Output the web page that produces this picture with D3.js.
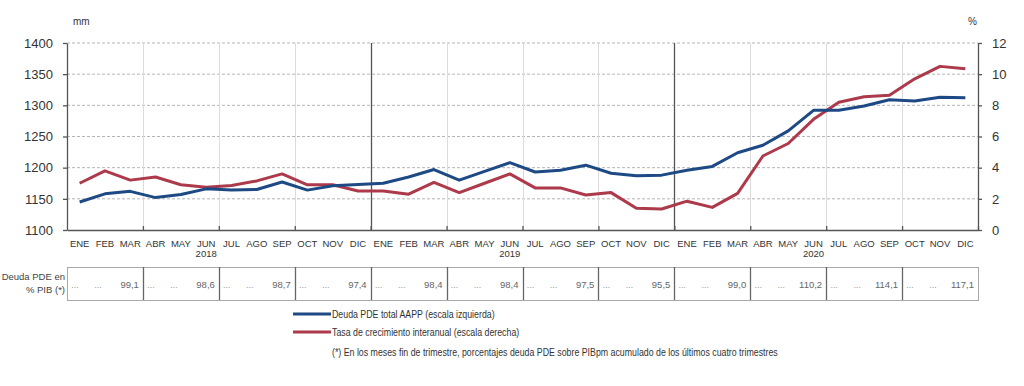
<!DOCTYPE html>
<html lang="es">
<head>
<meta charset="UTF-8">
<title>Deuda PDE</title>
<script src="https://cdn.jsdelivr.net/npm/d3@7"></script>
<style>
  body { margin: 0; background: #fff; }
  svg { display: block; font-family: "Liberation Sans", Arial, sans-serif; }
</style>
</head>
<body>
<div class="chart"></div>
<script>
const monthNames = ['ENE','FEB','MAR','ABR','MAY','JUN','JUL','AGO','SEP','OCT','NOV','DIC'];
const years = ['2018', '2019', '2020'];

// deuda PDE total AAPP, miles de millones (escala izquierda)
const deuda = [
  1145, 1158, 1162, 1152, 1157, 1166, 1164, 1165, 1177, 1164, 1171, 1173,
  1175, 1185, 1197, 1180, 1194, 1208, 1193, 1196, 1204, 1191, 1187, 1188,
  1196, 1202, 1224, 1236, 1259, 1292, 1292, 1299, 1309, 1307, 1313, 1312
];
// tasa de crecimiento interanual % (escala derecha)
const tasa = [
  3.0, 3.8, 3.2, 3.4, 2.9, 2.75, 2.85, 3.15, 3.6, 2.9, 2.9, 2.5,
  2.5, 2.3, 3.05, 2.4, 3.0, 3.6, 2.7, 2.7, 2.25, 2.4, 1.4, 1.35,
  1.85, 1.45, 2.35, 4.75, 5.55, 7.1, 8.2, 8.55, 8.65, 9.7, 10.5, 10.35
];
// deuda en % PIB al fin de cada trimestre
const pibPct = ['99,1','98,6','98,7','97,4','98,4','98,4','97,5','95,5','99,0','110,2','114,1','117,1'];

const leftTicks = [1100, 1150, 1200, 1250, 1300, 1350, 1400];
const rightTicks = [0, 2, 4, 6, 8, 10, 12];

const W = 1024, H = 386;
const plot = { left: 67, right: 978, top: 43, bottom: 230 };

const keys = years.flatMap(y => monthNames.map(m => `${m}-${y}`));
const points = keys.map((k, i) => ({ key: k, month: k.split('-')[0], deuda: deuda[i], tasa: tasa[i] }));

const svg = d3.select('.chart').append('svg').attr('width', W).attr('height', H);

const x = d3.scaleBand().domain(keys).range([plot.left, plot.right]);
const xi = d3.scaleLinear().domain([0, keys.length]).range([plot.left, plot.right]);
const yL = d3.scaleLinear().domain([1100, 1400]).range([plot.bottom, plot.top]);
const yR = d3.scaleLinear().domain([0, 12]).range([plot.bottom, plot.top]);

const quarterIdx = d3.range(3, keys.length, 3);

// horizontal dashed grid
svg.append('g').selectAll('line').data(leftTicks.slice(1)).join('line')
  .attr('x1', plot.left).attr('x2', plot.right)
  .attr('y1', d => yL(d)).attr('y2', d => yL(d))
  .attr('stroke', '#b5b5b5').attr('stroke-width', 1).attr('stroke-dasharray', '3,2');

// vertical quarter / year lines
svg.append('g').selectAll('line').data(quarterIdx).join('line')
  .attr('x1', d => Math.round(xi(d)) + 0.5).attr('x2', d => Math.round(xi(d)) + 0.5)
  .attr('y1', plot.top).attr('y2', plot.bottom)
  .attr('stroke', d => d % 12 === 0 ? '#555' : '#dcdcdc')
  .attr('stroke-width', d => d % 12 === 0 ? 1.3 : 1);

// axes
const styleAxis = g => {
  g.select('.domain').attr('stroke', '#555').attr('stroke-width', 1.3);
  g.selectAll('.tick line').attr('stroke', '#555').attr('stroke-width', 1.3);
  g.selectAll('.tick text').attr('fill', '#333');
};

svg.append('g').attr('transform', `translate(${plot.left},0)`)
  .call(d3.axisLeft(yL).tickValues(leftTicks).tickFormat(d3.format('d')).tickSize(4).tickSizeOuter(0).tickPadding(10))
  .call(styleAxis)
  .call(g => g.selectAll('.tick text').attr('font-size', 13).attr('font-family', '"Liberation Sans", Arial, sans-serif'));

svg.append('g').attr('transform', `translate(${plot.right},0)`)
  .call(d3.axisRight(yR).tickValues(rightTicks).tickSize(4).tickSizeOuter(0).tickPadding(10))
  .call(styleAxis)
  .call(g => g.selectAll('.tick text').attr('font-size', 13).attr('font-family', '"Liberation Sans", Arial, sans-serif'));

// bottom axis line with quarter ticks pointing up
svg.append('g').attr('transform', `translate(0,${plot.bottom})`)
  .call(d3.axisBottom(xi).tickValues(quarterIdx.concat([keys.length])).tickSize(-4).tickSizeOuter(0).tickFormat(''))
  .call(styleAxis);

// month labels
svg.append('g').attr('transform', `translate(0,${plot.bottom})`)
  .call(d3.axisBottom(x).tickSize(0).tickPadding(10).tickFormat(k => k.split('-')[0]))
  .call(g => g.select('.domain').remove())
  .call(g => g.selectAll('.tick text').attr('font-size', 9.5).attr('fill', '#333').attr('font-family', '"Liberation Sans", Arial, sans-serif'));

// year labels under JUN
svg.append('g').selectAll('text').data(years).join('text')
  .attr('x', d => x(`JUN-${d}`) + x.bandwidth() / 2)
  .attr('y', 257)
  .attr('text-anchor', 'middle').attr('font-size', 9.5).attr('fill', '#333')
  .text(d => d);

// units
svg.append('text').attr('x', 73).attr('y', 25).attr('font-size', 10).attr('fill', '#333').text('mm');
svg.append('text').attr('x', 968).attr('y', 25).attr('font-size', 10).attr('fill', '#333').text('%');

// lines
const cx = d => x(d.key) + x.bandwidth() / 2;
const lineDeuda = d3.line().x(cx).y(d => yL(d.deuda));
const lineTasa = d3.line().x(cx).y(d => yR(d.tasa));

svg.append('path').datum(points).attr('d', lineTasa)
  .attr('fill', 'none').attr('stroke', '#ad3a4b').attr('stroke-width', 3).attr('stroke-linejoin', 'round');
svg.append('path').datum(points).attr('d', lineDeuda)
  .attr('fill', 'none').attr('stroke', '#1d4a84').attr('stroke-width', 3).attr('stroke-linejoin', 'round');

// table of % PIB
const tTop = 267, tBot = 300;
const table = svg.append('g');
table.append('rect').attr('x', plot.left + 0.5).attr('y', tTop + 0.5)
  .attr('width', plot.right - plot.left).attr('height', tBot - tTop)
  .attr('fill', 'none').attr('stroke', '#aaa');
table.selectAll('line').data(quarterIdx).join('line')
  .attr('x1', d => Math.round(xi(d)) + 0.5).attr('x2', d => Math.round(xi(d)) + 0.5)
  .attr('y1', tTop).attr('y2', tBot)
  .attr('stroke', '#666').attr('stroke-width', 1.3);

const cells = table.selectAll('g.cell').data(pibPct).join('g').attr('class', 'cell');
cells.append('text').attr('x', (d, i) => xi(i * 3) + 8).attr('y', 288)
  .attr('font-size', 9).attr('fill', '#999').attr('text-anchor', 'middle').text('...');
cells.append('text').attr('x', (d, i) => xi(i * 3) + 31).attr('y', 288)
  .attr('font-size', 9).attr('fill', '#999').attr('text-anchor', 'middle').text('...');
cells.append('text').attr('x', (d, i) => xi(i * 3 + 3) - 4).attr('y', 288)
  .attr('font-size', 9.5).attr('fill', '#666').attr('text-anchor', 'end').text(d => d);

svg.append('text').attr('x', 65).attr('y', 280).attr('text-anchor', 'end')
  .attr('font-size', 9.5).attr('fill', '#444').text('Deuda PDE en');
svg.append('text').attr('x', 65).attr('y', 293).attr('text-anchor', 'end')
  .attr('font-size', 9.5).attr('fill', '#444').text('% PIB (*)');

// legend (condensed type, squeezed horizontally)
const legend = [
  { label: 'Deuda PDE total AAPP (escala izquierda)', color: '#1d4a84', y: 314 },
  { label: 'Tasa de crecimiento interanual (escala derecha)', color: '#ad3a4b', y: 332 },
  { label: '(*) En los meses fin de trimestre, porcentajes deuda PDE sobre PIBpm acumulado de los últimos cuatro trimestres', color: null, y: 352 }
];
const lg = svg.append('g');
lg.selectAll('line').data(legend.filter(d => d.color)).join('line')
  .attr('x1', 293).attr('x2', 331).attr('y1', d => d.y).attr('y2', d => d.y)
  .attr('stroke', d => d.color).attr('stroke-width', 3);
lg.selectAll('text').data(legend).join('text')
  .attr('transform', d => `translate(332,${d.y + 4}) scale(0.8,1)`)
  .attr('font-size', 11).attr('fill', '#333')
  .text(d => d.label);
</script>
</body>
</html>
